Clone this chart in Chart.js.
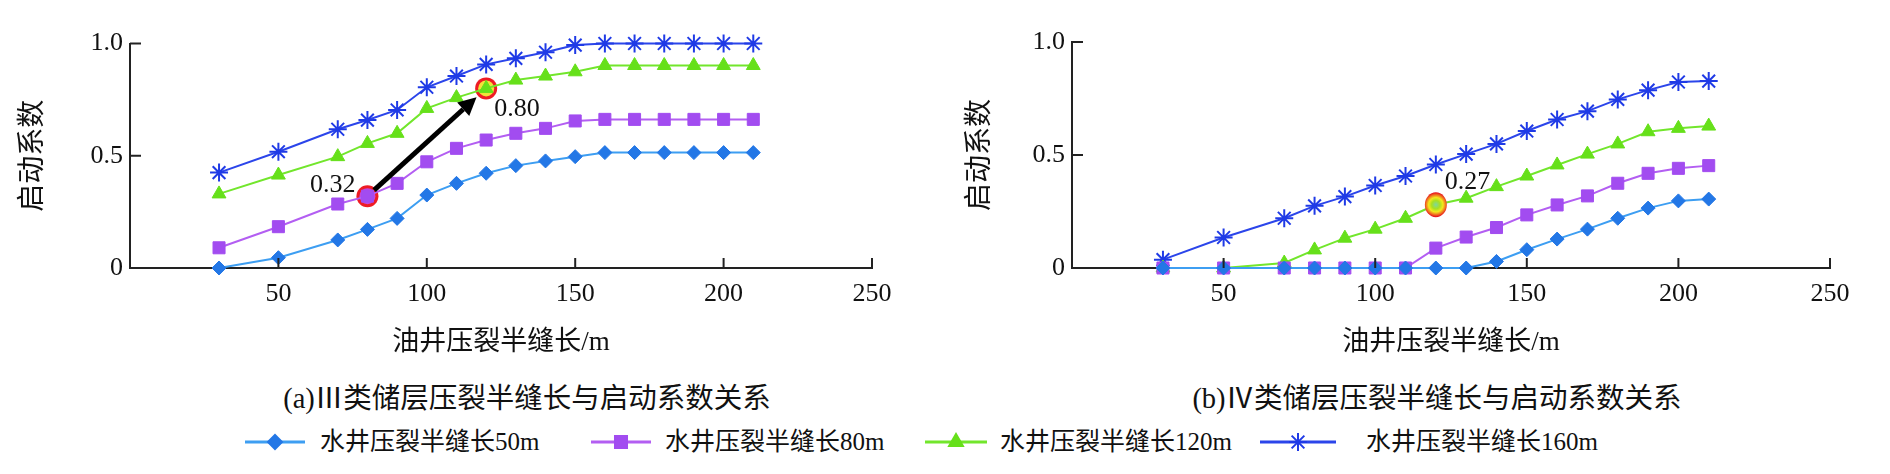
<!DOCTYPE html>
<html>
<head>
<meta charset="utf-8">
<script src="https://cdn.jsdelivr.net/npm/chart.js@4.4.0/dist/chart.umd.min.js"></script>
<style>
body { margin: 0; background: #fff; width: 1890px; height: 474px; overflow: hidden; position: relative;
       font-family: "Liberation Serif", "Noto Sans CJK SC", serif; color: #111; }
.chartBox { position: absolute; top: 0; width: 945px; height: 370px; }
#boxA { left: 0; }
#boxB { left: 945px; }
.caption { position: absolute; top: 375px; font-size: 28.5px; white-space: nowrap; transform: translateX(-50%); }
.legItem { position: absolute; top: 427px; height: 30px; font-size: 25px; white-space: nowrap; line-height: 30px; }
.legItem canvas { position: absolute; top: 3px; }
.legItem span { position: absolute; top: 0; }
</style>
</head>
<body>
<div class="chartBox" id="boxA"><canvas id="chartA" width="945" height="370"></canvas></div>
<div class="chartBox" id="boxB"><canvas id="chartB" width="945" height="370"></canvas></div>
<div class="caption" style="left:527px">(a)Ⅲ类储层压裂半缝长与启动系数关系</div>
<div class="caption" style="left:1437px">(b)Ⅳ类储层压裂半缝长与启动系数关系</div>
<div id="legend"></div>
<script>
// x values: oil well fracture half length (m)
const xValues = [30, 50, 70, 80, 90, 100, 110, 120, 130, 140, 150, 160, 170, 180, 190, 200, 210];
const seriesNames = ['水井压裂半缝长50m', '水井压裂半缝长80m', '水井压裂半缝长120m', '水井压裂半缝长160m'];

// (a) type III reservoir
const a50  = [0, 0.046, 0.125, 0.172, 0.221, 0.325, 0.377, 0.422, 0.456, 0.477, 0.496, 0.514, 0.514, 0.514, 0.514, 0.514, 0.514];
const a80  = [0.09, 0.184, 0.285, 0.32, 0.377, 0.473, 0.533, 0.57, 0.6, 0.622, 0.655, 0.662, 0.662, 0.662, 0.662, 0.662, 0.662];
const a120 = [0.33, 0.414, 0.496, 0.555, 0.6, 0.711, 0.759, 0.80, 0.837, 0.855, 0.874, 0.902, 0.902, 0.902, 0.902, 0.902, 0.902];
const a160 = [0.425, 0.518, 0.618, 0.659, 0.704, 0.805, 0.855, 0.907, 0.934, 0.961, 0.993, 1, 1, 1, 1, 1, 1];

// (b) type IV reservoir
const b50  = [0, 0, 0, 0, 0, 0, 0, 0, 0, 0.029, 0.081, 0.128, 0.172, 0.22, 0.265, 0.297, 0.305];
const b80  = [0, 0, 0, 0, 0, 0, 0, 0.088, 0.137, 0.179, 0.235, 0.279, 0.319, 0.375, 0.419, 0.441, 0.453];
const b120 = [0, 0, 0.022, 0.08, 0.132, 0.172, 0.22, 0.28, 0.309, 0.36, 0.407, 0.456, 0.504, 0.549, 0.603, 0.618, 0.628];
const b160 = [0.037, 0.135, 0.22, 0.275, 0.316, 0.365, 0.407, 0.458, 0.504, 0.549, 0.606, 0.657, 0.694, 0.746, 0.787, 0.823, 0.827];

// highlighted points and their labels
const marksA = [{ x: 80, y: 0.32, text: '0.32' }, { x: 120, y: 0.80, text: '0.80' }];
const marksB = [{ x: 120, y: 0.28, text: '0.27' }];

const xTicks = [50, 100, 150, 200, 250];
const yTicks = [0, 0.5, 1];

// styles
const lineColors   = ['#3d9ef2', '#b35ef2', '#72e62c', '#2b45ea'];
const markerColors = ['#2377e6', '#a24cf0', '#66e01a', '#1f3ae6'];
const pointStyles  = ['rectRot', 'rect', 'triangle', 'star'];
const pointSizes   = [7, 8.5, 8, 9];
const serif = "'Liberation Serif', 'Noto Sans CJK SC', serif";

function buildDatasets(lists) {
    return lists.map((vals, i) => ({
        label: seriesNames[i],
        data: xValues.map((x, j) => ({ x: x, y: vals[j] })),
        borderColor: lineColors[i],
        backgroundColor: markerColors[i],
        pointBackgroundColor: markerColors[i],
        pointBorderColor: markerColors[i],
        pointStyle: pointStyles[i],
        pointRadius: pointSizes[i],
        pointBorderWidth: i === 3 ? 2 : 1,
        borderWidth: 2,
        tension: 0,
        clip: false
    }));
}

// ticks drawn inward from the axis lines
const innerTicks = {
    id: 'innerTicks',
    afterDraw(chart) {
        const { ctx, chartArea, scales: { x, y } } = chart;
        ctx.save();
        ctx.strokeStyle = '#222';
        ctx.lineWidth = 2;
        xTicks.forEach(v => {
            const px = x.getPixelForValue(v);
            ctx.beginPath();
            ctx.moveTo(px, chartArea.bottom);
            ctx.lineTo(px, chartArea.bottom - 10);
            ctx.stroke();
        });
        yTicks.forEach(v => {
            if (v === 0) return;
            const py = y.getPixelForValue(v);
            ctx.beginPath();
            ctx.moveTo(chartArea.left, py);
            ctx.lineTo(chartArea.left + 11, py);
            ctx.stroke();
        });
        ctx.restore();
    }
};

function circleAt(ctx, px, py, style) {
    ctx.save();
    if (style === 'rainbow') {
        const g = ctx.createRadialGradient(px, py, 0, px, py, 12);
        g.addColorStop(0, '#7fd6a0');
        g.addColorStop(0.35, '#a8e020');
        g.addColorStop(0.6, '#f4e81c');
        g.addColorStop(0.8, '#f08020');
        g.addColorStop(1, '#e8141c');
        ctx.fillStyle = g;
        ctx.beginPath();
        ctx.ellipse(px, py, 11, 12.5, 0, 0, Math.PI * 2);
        ctx.fill();
    } else {
        ctx.fillStyle = '#ee1c24';
        ctx.beginPath();
        ctx.arc(px, py, 11, 0, Math.PI * 2);
        ctx.fill();
        ctx.fillStyle = style;
        ctx.beginPath();
        ctx.arc(px, py, 8, 0, Math.PI * 2);
        ctx.fill();
    }
    ctx.restore();
}

// highlight circles, arrow and value labels
const markPlugin = {
    id: 'marks',
    beforeDatasetsDraw(chart, args, opts) {
        const { ctx, scales: { x, y } } = chart;
        opts.points.forEach((p, i) => {
            if (opts.over[i]) return;
            circleAt(ctx, x.getPixelForValue(p.x), y.getPixelForValue(p.y), opts.fills[i]);
        });
    },
    afterDatasetsDraw(chart, args, opts) {
        const { ctx, scales: { x, y } } = chart;
        opts.points.forEach((p, i) => {
            if (!opts.over[i]) return;
            circleAt(ctx, x.getPixelForValue(p.x), y.getPixelForValue(p.y), opts.fills[i]);
        });
        if (opts.arrow) {
            const p1 = opts.points[0], p2 = opts.points[1];
            const x1 = x.getPixelForValue(p1.x), y1 = y.getPixelForValue(p1.y);
            const x2 = x.getPixelForValue(p2.x), y2 = y.getPixelForValue(p2.y);
            const len = Math.hypot(x2 - x1, y2 - y1);
            const ux = (x2 - x1) / len, uy = (y2 - y1) / len;
            const sx = x1 + ux * 9, sy = y1 + uy * 9;
            const tx = x2 - ux * 13, ty = y2 - uy * 13;
            const hx = tx - ux * 18, hy = ty - uy * 18;
            ctx.save();
            ctx.strokeStyle = '#000';
            ctx.fillStyle = '#000';
            ctx.lineWidth = 5;
            ctx.beginPath();
            ctx.moveTo(sx, sy);
            ctx.lineTo(hx, hy);
            ctx.stroke();
            ctx.beginPath();
            ctx.moveTo(tx, ty);
            ctx.lineTo(hx - uy * 9, hy + ux * 9);
            ctx.lineTo(hx + uy * 9, hy - ux * 9);
            ctx.closePath();
            ctx.fill();
            ctx.restore();
        }
        ctx.save();
        ctx.font = '26px ' + serif;
        ctx.fillStyle = '#111';
        ctx.textBaseline = 'middle';
        opts.points.forEach((p, i) => {
            const off = opts.labelOffsets[i];
            ctx.textAlign = off[2];
            ctx.fillText(p.text, x.getPixelForValue(p.x) + off[0], y.getPixelForValue(p.y) + off[1]);
        });
        ctx.restore();
    }
};

function makeChart(canvasId, lists, yAxisWidth, padRight, padTop, titlePad, marks) {
    const ctx = document.getElementById(canvasId).getContext('2d');
    return new Chart(ctx, {
        type: 'line',
        data: { datasets: buildDatasets(lists) },
        options: {
            responsive: false,
            animation: false,
            devicePixelRatio: 1,
            layout: { padding: { left: 0, right: padRight, top: padTop, bottom: 0 } },
            plugins: {
                legend: { display: false },
                tooltip: { enabled: false },
                marks: marks
            },
            scales: {
                x: {
                    type: 'linear',
                    min: 0,
                    max: 250,
                    afterBuildTicks: axis => { axis.ticks = [0].concat(xTicks).map(v => ({ value: v })); },
                    ticks: {
                        padding: 11,
                        color: '#111',
                        autoSkip: false,
                        maxRotation: 0,
                        font: { family: serif, size: 26 },
                        callback: v => (v === 0 ? '' : String(v))
                    },
                    grid: { display: false, drawTicks: false },
                    border: { display: true, color: '#222', width: 2 },
                    title: {
                        display: true,
                        text: '油井压裂半缝长/m',
                        color: '#111',
                        font: { family: serif, size: 27, lineHeight: 1 },
                        padding: { top: 0, bottom: 14 }
                    },
                    afterFit: axis => { axis.height = 102; }
                },
                y: {
                    min: 0,
                    max: 1,
                    afterBuildTicks: axis => { axis.ticks = yTicks.map(v => ({ value: v })); },
                    ticks: {
                        padding: 7,
                        color: '#111',
                        font: { family: serif, size: 26 },
                        callback: v => (v === 0 ? '0' : v.toFixed(1))
                    },
                    grid: { display: false, drawTicks: false },
                    border: { display: true, color: '#222', width: 2 },
                    title: {
                        display: true,
                        text: '启动系数',
                        color: '#111',
                        font: { family: serif, size: 28, lineHeight: 1 },
                        padding: { top: titlePad, bottom: 0 }
                    },
                    afterFit: axis => { axis.width = yAxisWidth; }
                }
            }
        },
        plugins: [innerTicks, markPlugin]
    });
}

makeChart('chartA', [a50, a80, a120, a160], 130, 73, 43.5, 20, {
    points: marksA,
    fills: ['#c448dc', '#f2e23a'],
    over: [false, false],
    arrow: true,
    labelOffsets: [[-12, -11, 'right'], [8, 21, 'left']]
});

makeChart('chartB', [b50, b80, b120, b160], 127, 60, 42, 22, {
    points: marksB,
    fills: ['rainbow'],
    over: [true],
    arrow: false,
    labelOffsets: [[9, -23, 'left']]
});

// shared legend below both panels
function buildLegend() {
    const legend = document.getElementById('legend');
    const sampleLeft = [245, 591, 925, 1260];
    const sampleWidth = [60, 60, 62, 76];
    const textLeft = [320, 665, 1000, 1366];
    seriesNames.forEach((name, i) => {
        const item = document.createElement('div');
        item.className = 'legItem';
        item.style.left = sampleLeft[i] + 'px';
        const c = document.createElement('canvas');
        c.width = sampleWidth[i];
        c.height = 24;
        const g = c.getContext('2d');
        g.strokeStyle = lineColors[i];
        g.lineWidth = 3;
        g.beginPath();
        g.moveTo(0, 12);
        g.lineTo(sampleWidth[i], 12);
        g.stroke();
        g.fillStyle = markerColors[i];
        g.strokeStyle = markerColors[i];
        g.lineWidth = 2;
        Chart.helpers.drawPoint(g, { pointStyle: pointStyles[i], radius: pointSizes[i], rotation: 0, borderWidth: 2 }, sampleWidth[i] / 2, 12);
        item.appendChild(c);
        const span = document.createElement('span');
        span.textContent = name;
        span.style.left = (textLeft[i] - sampleLeft[i]) + 'px';
        item.appendChild(span);
        legend.appendChild(item);
    });
}
buildLegend();
</script>
</body>
</html>
